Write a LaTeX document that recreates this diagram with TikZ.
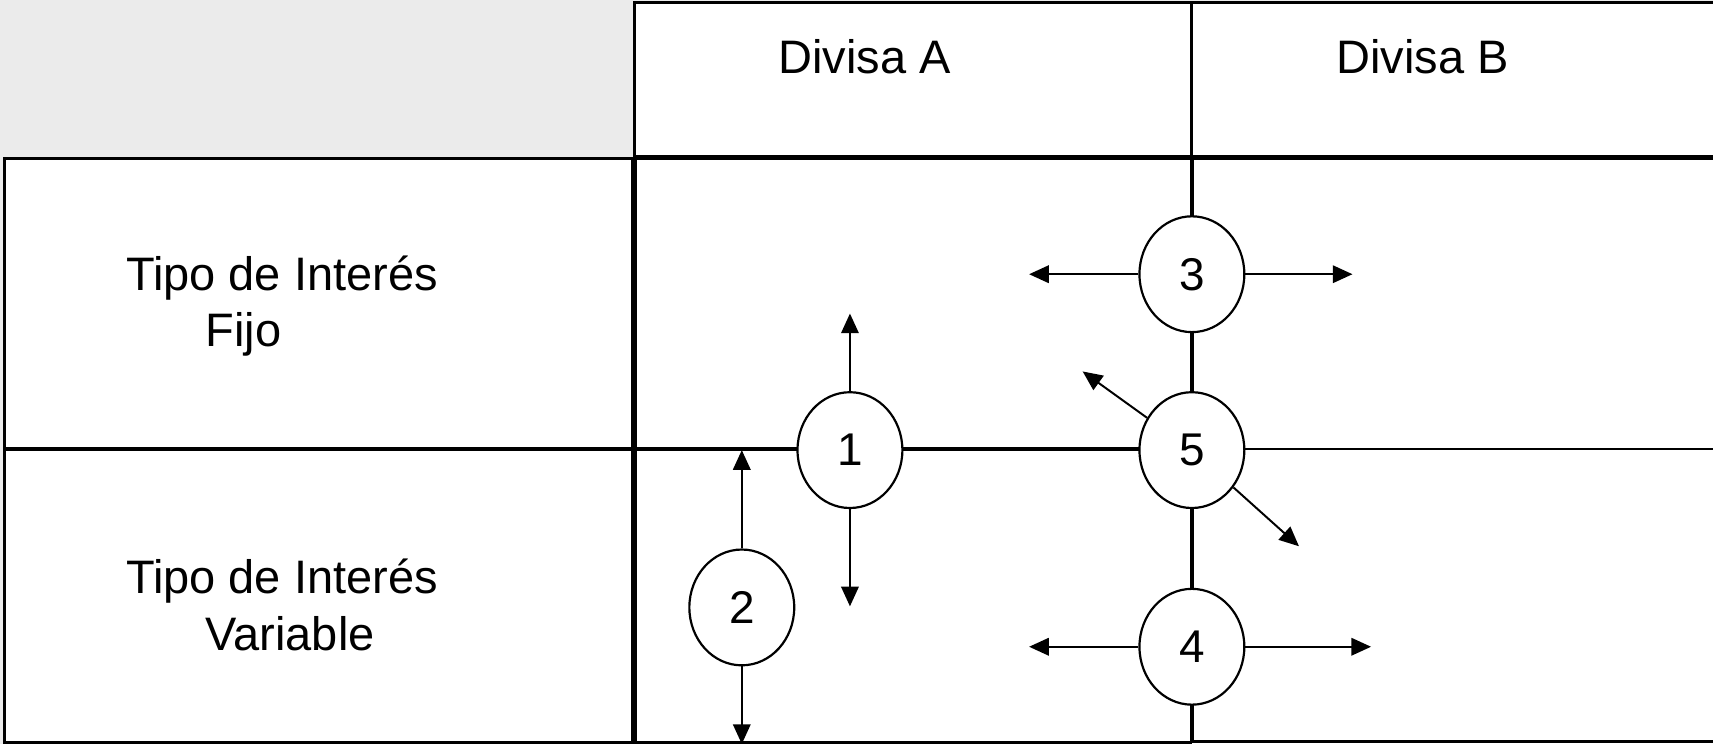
\documentclass[tikz,border=0pt]{standalone}
\usepackage{fontspec}
\setmainfont{Liberation Sans}
\usetikzlibrary{shapes.geometric,arrows.meta}
\definecolor{bggray}{HTML}{EBEBEB}
\begin{document}
\begin{tikzpicture}[x=0.5pt,y=-0.5pt,
  cell/.style={draw=black,line width=1.4pt,fill=white},
  gridline/.style={line width=1.7pt},
  thinline/.style={line width=1.3pt},
  num/.style={ellipse,draw,line width=1pt,fill=white,minimum width=48pt,minimum height=53pt,inner sep=0pt,font=\fontsize{21}{25}\selectfont},
  lbl/.style={inner sep=0pt,anchor=base west,font=\fontsize{21.5}{26}\selectfont},
  arr/.style={line width=0.9pt,-{Triangle[length=9pt,width=8pt]}}]
\useasboundingbox (0,0) rectangle (1568,681);
\fill[bggray] (0,0) rectangle (1568,681);
% header cells
\draw[cell] (581,2) rectangle (1091,143);
\draw[cell] (1091,2) rectangle (1572,143);
% row label cells
\draw[cell] (4,145) rectangle (579,411);
\draw[cell] (4,411) rectangle (579,680);
% main area
\fill[white] (581,145) rectangle (1568,681);
\draw[gridline] (581,681) -- (581,145) -- (1572,145);
\draw[gridline] (581,411) -- (1091,411);
\draw[thinline] (1091,411) -- (1572,411);
\draw[gridline] (1091,145) -- (1091,680);
\draw[thinline] (1093,679) -- (1572,679);
\draw[thinline] (581,680) -- (1091,680);
% texts
\node[lbl] (ha) at (712,67) {Divisa A};
\node[lbl] (hb) at (1223,67) {Divisa B};
\node[lbl] (f1) at (115,266) {Tipo de Interés};
\node[lbl] (f2) at (188,317) {Fijo};
\node[lbl] (v1) at (115,543) {Tipo de Interés};
\node[lbl] (v2) at (188,595) {Variable};
% numbered nodes
\node[num] (n1) at (778,412) {1};
\node[num] (n2) at (679,556) {2};
\node[num] (n3) at (1091,251) {3};
\node[num] (n5) at (1091,412) {5};
\node[num] (n4) at (1091,592) {4};
% arrow ends
\coordinate (e1u) at (778,287);
\coordinate (e1d) at (778,555);
\coordinate (e2u) at (679,412);
\coordinate (e2d) at (679,681);
\coordinate (e3l) at (942,251);
\coordinate (e3r) at (1238,251);
\coordinate (e4l) at (942,592);
\coordinate (e4r) at (1255,592);
\coordinate (e5a) at (991,340);
\coordinate (e5b) at (1189,500);
% arrows
\draw[arr] (n1) -- (e1u);
\draw[arr] (n1) -- (e1d);
\draw[arr] (n2) -- (e2u);
\draw[arr] (n2) -- (e2d);
\draw[arr] (n3) -- (e3l);
\draw[arr] (n3) -- (e3r);
\draw[arr] (n4) -- (e4l);
\draw[arr] (n4) -- (e4r);
\draw[arr] (n5) -- (e5a);
\draw[arr] (n5) -- (e5b);
\end{tikzpicture}
\end{document}
